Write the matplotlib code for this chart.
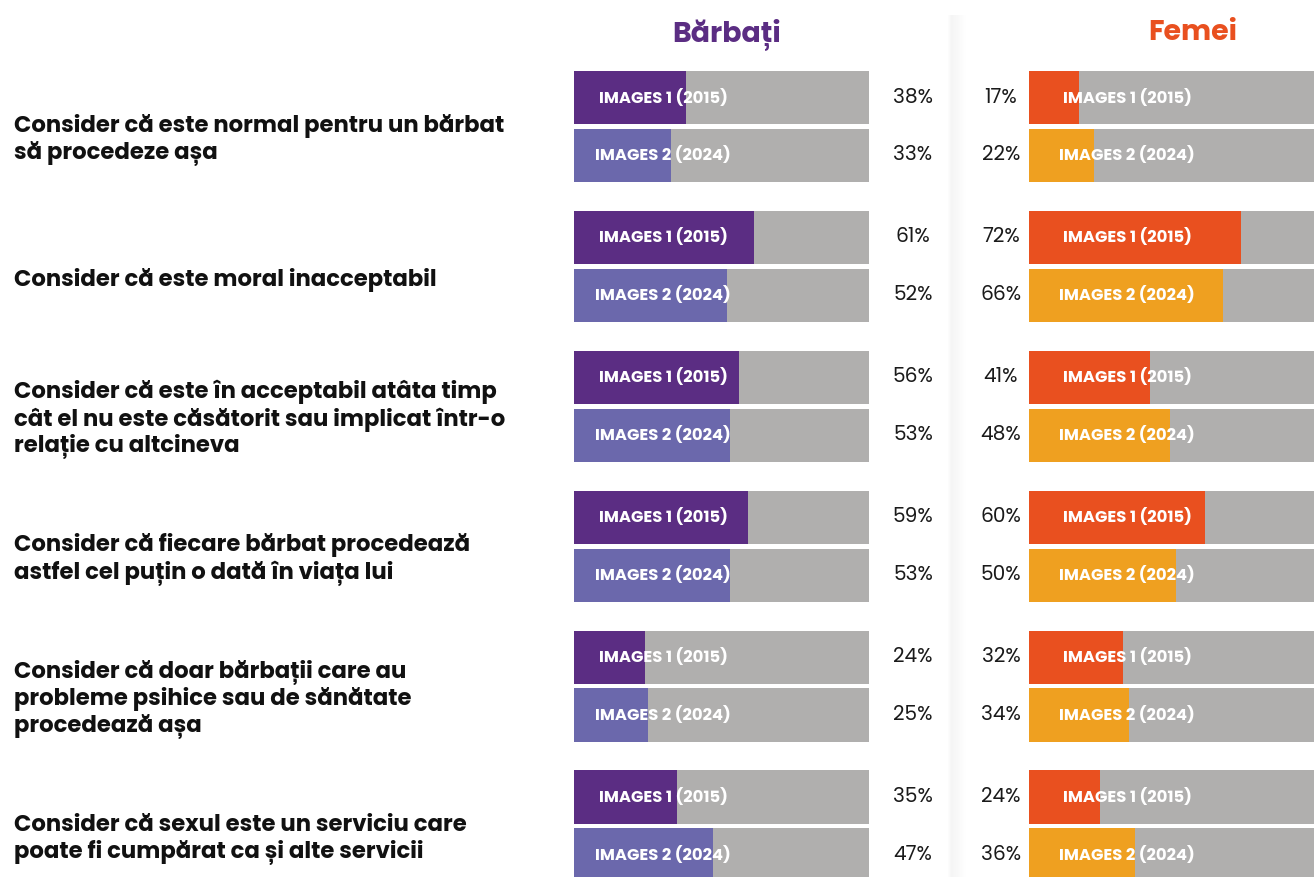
import numpy as np
import matplotlib.pyplot as plt
from matplotlib.transforms import blended_transform_factory

# Date sondaj
intrebari = [
    "Consider că este normal pentru un bărbat\nsă procedeze așa",
    "Consider că este moral inacceptabil",
    "Consider că este în acceptabil atâta timp\ncât el nu este căsătorit sau implicat într-o\nrelație cu altcineva",
    "Consider că fiecare bărbat procedează\nastfel cel puțin o dată în viața lui",
    "Consider că doar bărbații care au\nprobleme psihice sau de sănătate\nprocedează așa",
    "Consider că sexul este un serviciu care\npoate fi cumpărat ca și alte servicii",
]
barbati_2015 = [38, 61, 56, 59, 24, 35]
barbati_2024 = [33, 52, 53, 53, 25, 47]
femei_2015 = [17, 72, 41, 60, 32, 24]
femei_2024 = [22, 66, 48, 50, 34, 36]
etichete = ["IMAGES 1 (2015)", "IMAGES 2 (2024)"]

W, H = 1314, 877
fig = plt.figure(figsize=(W / 100, H / 100), dpi=100)
fig.patch.set_facecolor("white")

FONT = ["Poppins", "Inter", "DejaVu Sans"]
GRI = "#b0afae"

def px_axes(x0, x1):
    return fig.add_axes([x0 / W, 0, (x1 - x0) / W, 1])

# umbra separatorului dintre panouri
ax_sep = fig.add_axes([947 / W, 0, 20 / W, (H - 15) / H])
grad = np.concatenate([np.linspace(0.0, 0.08, 5), np.linspace(0.08, 0.0, 15)])
ax_sep.imshow(grad[None, :], aspect="auto", cmap="Greys", vmin=0, vmax=1,
              extent=[0, 1, 0, 1])
ax_sep.axis("off")

y = np.arange(len(intrebari))
off, h = 0.207, 0.38
ylim = ((H - 126.5) / 139.9, -126.5 / 139.9)

panouri = [
    (574, 869, barbati_2015, barbati_2024, "#5b2d83", "#6b68ac", 913, 663),
    (1029, 1323, femei_2015, femei_2024, "#e9501f", "#efa020", 1001, 1127),
]
for x0, x1, v1, v2, c1, c2, xpct, xlab in panouri:
    ax = px_axes(x0, x1)
    ax.set_xlim(0, 100)
    ax.set_ylim(*ylim)
    ax.axis("off")
    for vals, dy, col, lab in [(v1, -off, c1, etichete[0]), (v2, off, c2, etichete[1])]:
        ax.barh(y + dy, [100] * len(y), height=h, color=GRI, zorder=1)
        ax.barh(y + dy, vals, height=h, color=col, zorder=2)
        tr = blended_transform_factory(fig.transFigure, ax.transData)
        for yi, v in zip(y + dy, vals):
            ax.text(xlab / W, yi, lab, transform=tr, ha="center", va="center",
                    color="white", fontsize=11.8, fontweight="bold", family=FONT,
                    zorder=3)
            ax.text(xpct / W, yi, f"{v}%", transform=tr, ha="center", va="center",
                    color="#1a1a1a", fontsize=14.5, family=FONT, clip_on=False)

# intrebarile din stanga
trq = blended_transform_factory(fig.transFigure, ax.transData)
for yi, q in zip(y, intrebari):
    ax.text(14 / W, yi + 0.095, q, transform=trq, ha="left", va="center",
            fontsize=16.4, fontweight="bold", family=FONT, color="#111111",
            linespacing=1.15, clip_on=False)

fig.text(727 / W, 1 - 34 / H, "Bărbați", ha="center", va="center",
         fontsize=20.5, fontweight="bold", family=FONT, color="#5b2d83")
fig.text(1193 / W, 1 - 34 / H, "Femei", ha="center", va="center",
         fontsize=20.5, fontweight="bold", family=FONT, color="#e9501f")

fig.savefig("out.png", dpi=100, facecolor="white")
